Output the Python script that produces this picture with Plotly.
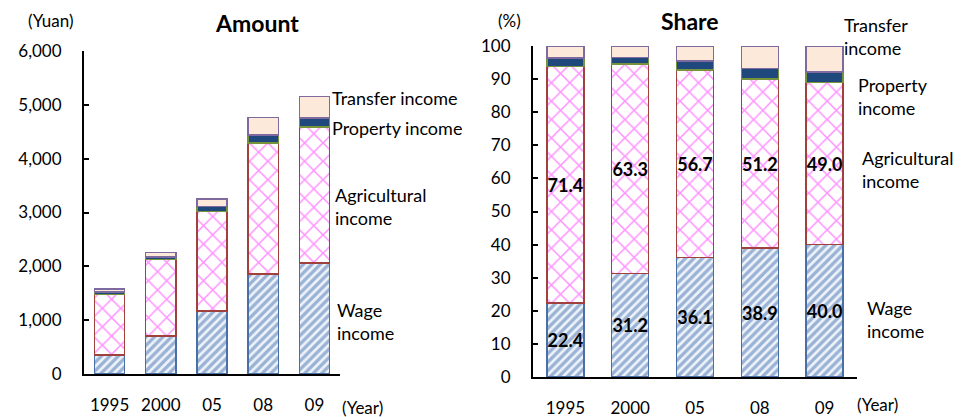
import plotly.graph_objects as go
from plotly.subplots import make_subplots

# rural per-capita net income by source (yuan)
years = ['1995', '2000', '05', '08', '09']
wage = [353.7, 702.3, 1174.5, 1853.7, 2061.3]
agri = [1125.8, 1427.3, 1844.5, 2435.6, 2526.8]
prop = [41.0, 45.0, 88.5, 148.1, 167.2]
trans = [57.3, 78.8, 147.4, 323.2, 398.0]

# shares (%)
wage_sh = [22.4, 31.2, 36.1, 38.9, 40.0]
agri_sh = [71.4, 63.3, 56.7, 51.2, 49.0]
prop_sh = [2.6, 2.0, 2.7, 3.1, 3.2]
trans_sh = [3.6, 3.5, 4.5, 6.8, 7.8]

y_ticks_amt = [0, 1000, 2000, 3000, 4000, 5000, 6000]
y_ticks_sh = list(range(0, 101, 10))

FONT = 'Lato'
# page body has an 8px margin, so work in screen pixels and convert
OFF = 8
W, H = 975 - OFF, 417 - OFF
def px(x):
    return (x - OFF) / W
def py(y):
    return 1 - (y - OFF) / H

styles = [
    dict(name='Wage income', pattern=dict(shape='/', fgcolor='#4572b0', bgcolor='#eef3fa', size=6, solidity=0.55),
         color='#eef3fa', line='#4a6fa5'),
    dict(name='Agricultural income', pattern=dict(shape='x', fgcolor='#ff22ff', bgcolor='white', size=13, solidity=0.22),
         color='white', line='#a0413e'),
    dict(name='Property income', pattern=None, color='#1f497d', line='#77933c'),
    dict(name='Transfer income', pattern=None, color='#fde9d9', line='#7f6a9f'),
]

fig = make_subplots(rows=1, cols=2)

for vals, st in zip([wage, agri, prop, trans], styles):
    m = dict(color=st['color'], line=dict(color=st['line'], width=1.5))
    if st['pattern']:
        m['pattern'] = st['pattern']
    fig.add_trace(go.Bar(x=years, y=vals, marker=m, name=st['name'], width=0.59), row=1, col=1)

for i, (vals, st) in enumerate(zip([wage_sh, agri_sh, prop_sh, trans_sh], styles)):
    m = dict(color=st['color'], line=dict(color=st['line'], width=1.5))
    if st['pattern']:
        m['pattern'] = st['pattern']
    txt = [f'{v:.1f}' for v in vals] if i < 2 else None
    fig.add_trace(go.Bar(x=years, y=vals, marker=m, name=st['name'], width=0.57,
                         text=txt, textposition='inside' if i < 2 else 'none',
                         insidetextanchor='middle', textangle=0, constraintext='none',
                         insidetextfont=dict(family=FONT, size=18, color='black', weight='bold')),
                  row=1, col=2)

axis_common = dict(showline=True, linecolor='black', linewidth=2, showgrid=False, zeroline=False,
                   automargin=False, tickfont=dict(family=FONT, size=17, color='black'))

fig.update_xaxes(**axis_common, ticks='', ticklabelstandoff=15)
fig.update_xaxes(domain=[px(84), px(340)], row=1, col=1)
fig.update_xaxes(domain=[px(533), px(857)], row=1, col=2)
fig.update_yaxes(**axis_common, ticks='inside', ticklen=5, tickwidth=1.5, tickcolor='black',
                 ticklabelstandoff=17)
fig.update_yaxes(domain=[py(374), py(51)], range=[0, 6000], tickvals=y_ticks_amt,
                 tickformat=',d', row=1, col=1)
fig.update_yaxes(domain=[py(377), py(46)], range=[0, 100], tickvals=y_ticks_sh, row=1, col=2)

ann = []
def txt(x, y, s, size=18, bold=False, anchor='left'):
    ann.append(dict(x=px(x), y=py(y), xref='paper', yref='paper', text=s, showarrow=False,
                    xanchor=anchor, yanchor='middle', align='left',
                    font=dict(family=FONT, size=size, color='black', weight='bold' if bold else 'normal')))

txt(257, 23, 'Amount', size=23, bold=True, anchor='center')
txt(690, 21, 'Share', size=23, bold=True, anchor='center')
txt(26, 21, '(Yuan)', size=17)
txt(496, 20, '(%)', size=17)
txt(340, 407, '(Year)', size=17)
txt(855, 404, '(Year)', size=17)
txt(330, 98, 'Transfer income')
txt(330, 128, 'Property income')
txt(333, 206, 'Agricultural<br>income')
txt(335, 321, 'Wage<br>income')
txt(842, 37, 'Transfer<br>income')
txt(856, 97, 'Property<br>income')
txt(860, 169, 'Agricultural<br>income')
txt(865, 319, 'Wage<br>income')

fig.update_layout(barmode='stack', showlegend=False, width=W, height=H,
                  margin=dict(l=0, r=0, t=0, b=0), plot_bgcolor='white', paper_bgcolor='white',
                  annotations=ann, font=dict(family=FONT))

fig.write_html('out.html')
